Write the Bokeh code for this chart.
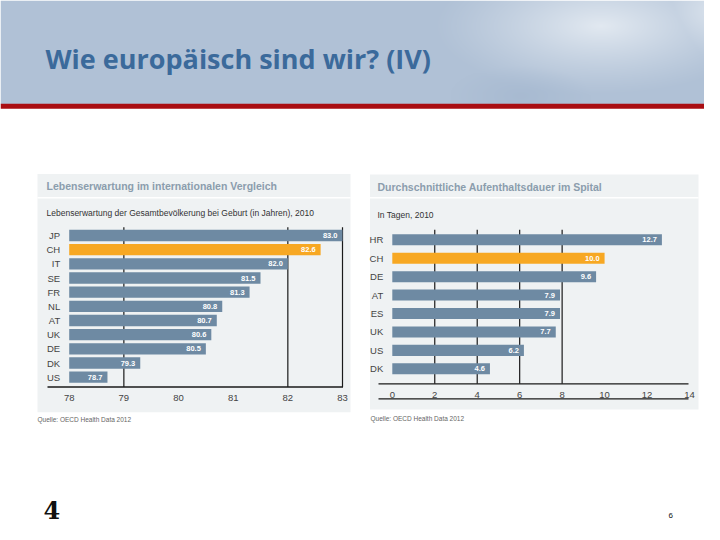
import numpy as np
from bokeh.plotting import figure
from bokeh.models import Range1d, LinearAxis, FixedTicker, ColumnDataSource, Label
from bokeh.embed import file_html
from bokeh.resources import INLINE
from bokeh.core.properties import value

# ---------------- data ----------------
le_countries = ["JP", "CH", "IT", "SE", "FR", "NL", "AT", "UK", "DE", "DK", "US"]
le_values = [83.0, 82.6, 82.0, 81.5, 81.3, 80.8, 80.7, 80.6, 80.5, 79.3, 78.7]
le_ticks = [78, 79, 80, 81, 82, 83]
le_grid = [79, 82, 83]
le_base = 78

los_countries = ["HR", "CH", "DE", "AT", "ES", "UK", "US", "DK"]
los_values = [12.7, 10.0, 9.6, 7.9, 7.9, 7.7, 6.2, 4.6]
los_ticks = [0, 2, 4, 6, 8, 10, 12, 14]
los_grid = [2, 4, 6, 8]
los_base = 0

highlight = "CH"

slide_title = "Wie europäisch sind wir? (IV)"
le_title = "Lebenserwartung im internationalen Vergleich"
le_subtitle = "Lebenserwartung der Gesamtbevölkerung bei Geburt (in Jahren), 2010"
los_title = "Durchschnittliche Aufenthaltsdauer im Spital"
los_subtitle = "In Tagen, 2010"
source = "Quelle: OECD Health Data 2012"
page_no = "6"

# ---------------- styles ----------------
BLUE = "#6e8aa3"
ORANGE = "#f7a823"
PANEL = "#eff2f3"
FONT = "Liberation Sans"

W, H = 704, 524
PX0, PY0 = 0, 0
PX1, PY1 = PX0 + W, PY0 + H


def rng(v0, p0, v1, p1, pstart, pend):
    s = (p1 - p0) / (v1 - v0)
    return Range1d(start=v0 + (pstart - p0) / s, end=v0 + (pend - p0) / s)


def inv(v0, p0, v1, p1, p):
    s = (p1 - p0) / (v1 - v0)
    return v0 + (p - p0) / s


p = figure(width=W, height=H, x_range=Range1d(PX0, PX1), y_range=Range1d(PY1, PY0),
           output_backend="svg", toolbar_location=None, x_axis_type=None, y_axis_type=None,
           min_border=0, outline_line_color=None, background_fill_color="white",
           border_fill_color="white")
p.grid.visible = False

# chart scales (anchored to panel geometry)
LX = (le_base, 68.7, 83, 342.0)
LY = (0, 235.0, 10, 376.7)
RX = (los_base, 391.8, 14, 689.0)
RY = (0, 239.3, 7, 368.3)
p.extra_x_ranges = {"Lx": rng(*LX, PX0, PX1), "Rx": rng(*RX, PX0, PX1)}
p.extra_y_ranges = {"Ly": rng(*LY, PY1, PY0), "Ry": rng(*RY, PY1, PY0)}

# ---------------- header ----------------
hh = 104
ys, xs = np.mgrid[0:hh, 0:W]
wx = xs + PX0
wy = ys + PY0
base = np.array([176, 193, 214], dtype=float)
light = np.array([226, 233, 241], dtype=float)
d = np.sqrt(((wx - 600) / 170.0) ** 2 + ((wy - 25) / 70.0) ** 2)
t = np.clip(1.0 - d, 0, 1) ** 1.2
d2 = np.sqrt(((wx - 720) / 90.0) ** 2 + ((wy - 10) / 60.0) ** 2)
t = np.maximum(t, np.clip(1.0 - d2, 0, 1) * 0.9)
dark = np.sqrt(((wx - 520) / 70.0) ** 2 + ((wy - 95) / 30.0) ** 2)
td = np.clip(1.0 - dark, 0, 1) * 0.5
rgb = base[None, None, :] * (1 - t[..., None]) + light[None, None, :] * t[..., None]
rgb = rgb * (1 - td[..., None]) + np.array([160, 180, 205])[None, None, :] * td[..., None]
rgb = rgb.astype(np.uint32)
img = (255 << 24) | (rgb[..., 2] << 16) | (rgb[..., 1] << 8) | rgb[..., 0]
p.image_rgba(image=[img.astype(np.uint32)], x=PX0, y=PY0, dw=W, dh=hh)
p.quad(left=[PX0], right=[PX1], top=[103.3], bottom=[108.3], color="#a90d12", line_color=None)
p.add_layout(Label(x=45, y=58, text=slide_title, text_font="Open Sans", text_font_style="bold",
                   text_font_size="27px", text_color="#3b6a9b", text_baseline="alphabetic"))

# ---------------- panels ----------------
panels = [(37, 350, 173.5, 411.7, 196.5), (369.5, 698, 174, 409, 196.5)]
for (l, r, tp, bt, sep) in panels:
    p.quad(left=[l], right=[r], top=[tp], bottom=[bt], color=PANEL, line_color=None)
    p.quad(left=[l], right=[r], top=[sep], bottom=[sep + 1.6], color="white", line_color=None)

p.add_layout(Label(x=46, y=185.5, text=le_title, text_font=FONT, text_font_style="bold",
                   text_font_size="10.5px", text_color="#8b9dad", text_baseline="middle"))
p.add_layout(Label(x=46, y=212.5, text=le_subtitle, text_font=FONT, text_font_size="8.5px",
                   text_color="#333333", text_baseline="middle"))
p.add_layout(Label(x=377, y=186.5, text=los_title, text_font=FONT, text_font_style="bold",
                   text_font_size="10.5px", text_color="#8b9dad", text_baseline="middle"))
p.add_layout(Label(x=377, y=214.5, text=los_subtitle, text_font=FONT, text_font_size="8.5px",
                   text_color="#333333", text_baseline="middle"))


def chart(countries, vals, base, grid, ticks, xr, yr, X, Y, bar_h, axis_px, top_px,
          line_x0_px, line_x1_px, second_line_px, label_standoff):
    idx = list(range(len(countries)))
    colors = [ORANGE if c == highlight else BLUE for c in countries]
    src = ColumnDataSource(dict(y=idx, v=vals, c=colors, lab=["%.1f" % v for v in vals]))
    axis_k = inv(*Y, axis_px)
    top_k = inv(*Y, top_px)
    # grid lines
    p.segment(x0=grid, x1=grid, y0=[top_k] * len(grid), y1=[axis_k] * len(grid),
              line_color="#1a1a1a", line_width=1.2, x_range_name=xr, y_range_name=yr)
    # bars
    p.hbar(y="y", left=base, right="v", height=bar_h, fill_color="c", line_color=None,
           source=src, x_range_name=xr, y_range_name=yr)
    p.text(x="v", y="y", text="lab", x_offset=-5, text_align="right", text_baseline="middle",
           text_color="white", text_font=value(FONT), text_font_style="bold",
           text_font_size="7.5px", source=src, x_range_name=xr, y_range_name=yr)
    # axis lines
    lx0 = inv(*X, line_x0_px)
    lx1 = inv(*X, line_x1_px)
    p.segment(x0=[lx0], x1=[lx1], y0=[axis_k], y1=[axis_k], line_color="#1a1a1a",
              line_width=1.3, x_range_name=xr, y_range_name=yr)
    if second_line_px is not None:
        k2 = inv(*Y, second_line_px)
        p.segment(x0=[lx0], x1=[lx1], y0=[k2], y1=[k2], line_color="#1a1a1a",
                  line_width=1.3, x_range_name=xr, y_range_name=yr)
    xa = LinearAxis(x_range_name=xr, y_range_name=yr, fixed_location=axis_k,
                    ticker=FixedTicker(ticks=ticks), axis_line_color=None,
                    major_tick_line_color=None, minor_tick_line_color=None,
                    major_label_standoff=label_standoff, major_label_text_font=FONT,
                    major_label_text_font_size="9.5px", major_label_text_color="#444444")
    p.add_layout(xa, "below")
    ya = LinearAxis(x_range_name=xr, y_range_name=yr, fixed_location=base,
                    ticker=FixedTicker(ticks=idx),
                    major_label_overrides={i: c for i, c in enumerate(countries)},
                    axis_line_color=None, major_tick_line_color=None,
                    minor_tick_line_color=None, major_label_standoff=3,
                    major_label_text_font=FONT, major_label_text_font_size="9.5px",
                    major_label_text_color="#444444")
    p.add_layout(ya, "left")


chart(le_countries, le_values, le_base, le_grid, le_ticks, "Lx", "Ly", LX, LY, 0.8,
      386.5, 226.7, 47, 342.5, None, 2)
chart(los_countries, los_values, los_base, los_grid, los_ticks, "Rx", "Ry", RX, RY, 0.6,
      383.3, 229.3, 378, 688, 398.3, 2)

# sources & footer
p.add_layout(Label(x=37, y=418.5, text=source, text_font=FONT, text_font_size="6.5px",
                   text_color="#666666", text_baseline="middle"))
p.add_layout(Label(x=370, y=417.5, text=source, text_font=FONT, text_font_size="6.5px",
                   text_color="#666666", text_baseline="middle"))
p.add_layout(Label(x=43, y=509, text="4", text_font="DejaVu Serif", text_font_style="bold",
                   text_font_size="24px", text_color="#111111", text_baseline="middle"))
p.add_layout(Label(x=668, y=515, text=page_no, text_font=FONT, text_font_size="8px",
                   text_color="#111111", text_baseline="middle"))

open("out.html", "w").write(file_html(p, INLINE))
